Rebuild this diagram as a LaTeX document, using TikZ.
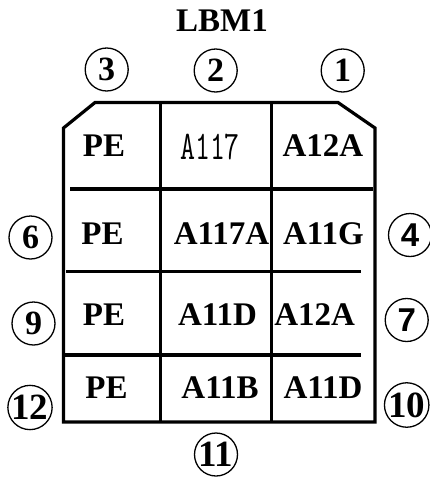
\documentclass[tikz,border=0pt]{standalone}
\usepackage{fontspec}
\setmainfont{Liberation Serif}
\newfontfamily\sansf{Liberation Sans}
\begin{document}
\begin{tikzpicture}[x=1pt,y=-1pt,
  cell/.style={font=\fontsize{33}{33}\selectfont\bfseries, inner sep=0pt},
  mono/.style={font=\fontsize{29}{29}\selectfont\ttfamily, inner sep=0pt},
  num/.style={draw, circle, line width=1.3pt, minimum size=43pt, inner sep=0pt, font=\fontsize{34}{34}\selectfont\bfseries},
  numw/.style={num, font=\fontsize{37}{37}\selectfont\bfseries},
  nums/.style={num, font=\fontsize{33}{33}\selectfont\sansf\bfseries},
  gridline/.style={line width=3.2pt},
]
\useasboundingbox (0,0) rectangle (430,477);
% outline
\draw[gridline, line join=miter] (95,102.5) -- (338,102.5) -- (375,128) -- (375,422) -- (63.5,422) -- (63.5,128) -- cycle;
% inner lines
\draw[gridline] (160.5,102.5) -- (160.5,422);
\draw[gridline] (271.5,102.5) -- (271.5,422);
\draw[gridline] (70,189) -- (373,189);
\draw[gridline] (66,271.5) -- (361,271.5);
\draw[gridline] (65,355) -- (361,355);
% title
\node[cell, font=\fontsize{33}{33}\selectfont\bfseries] (title) at (222,21) {LBM1};
% cells
\node[cell] (r1a) at (104,146) {PE};
\node[mono] (r1b) at (210,147) {\scalebox{1}[1.4]{A117}};
\node[cell] (r1c) at (323,146) {A12A};
\node[cell] (r2a) at (102.5,233.5) {PE};
\node[cell] (r2b) at (221.5,233.5) {A117A};
\node[cell] (r2c) at (323.5,233.5) {A11G};
\node[cell] (r3a) at (104,315) {PE};
\node[cell] (r3b) at (217.5,315) {A11D};
\node[cell] (r3c) at (314.7,315) {A12A};
\node[cell] (r4a) at (106.5,388) {PE};
\node[cell] (r4b) at (220,388) {A11B};
\node[cell] (r4c) at (323,388) {A11D};
% circled numbers
\node[num] (n3) at (106.7,69.5) {3};
\node[num] (n2) at (215.7,70.5) {2};
\node[num] (n1) at (342.7,70.5) {1};
\node[num] (n6) at (30.5,237.5) {6};
\node[nums] (n4) at (410,235) {4};
\node[num] (n9) at (33.5,323.5) {9};
\node[nums] (n7) at (406.7,320) {7};
\node[numw] (n12) at (30,407.5) {12};
\node[numw] (n10) at (406.7,405) {10};
\node[numw] (n11) at (216,454.5) {11};
\end{tikzpicture}
\end{document}
